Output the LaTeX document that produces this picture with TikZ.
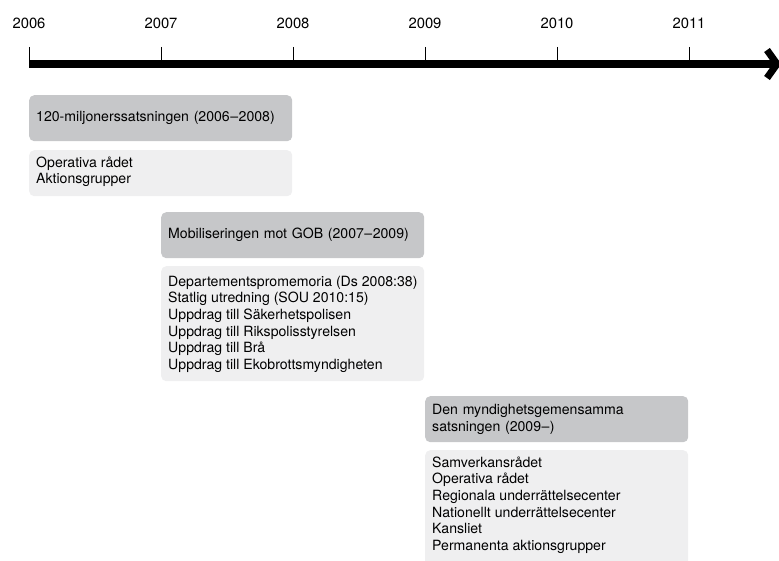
\documentclass[tikz,border=0pt]{standalone}
\usepackage{fontspec}
\setmainfont{TeX Gyre Heros}
\definecolor{hdrgray}{HTML}{C6C7C9}
\definecolor{bodygray}{HTML}{EFEFF0}
\newcommand{\yrdash}{\kern0.5pt--\kern0.5pt}
\begin{document}
\begin{tikzpicture}[x=1pt,y=-1pt,
  hdr/.style={fill=hdrgray, rounded corners=5pt, anchor=north west, minimum width=263pt, minimum height=46pt, text width=249pt, inner xsep=7pt, inner ysep=0pt, align=left, font=\fontsize{14.1}{17.5}\selectfont},
  bodybox/.style={fill=bodygray, rounded corners=5pt, anchor=north west, minimum width=263pt, inner sep=0pt},
  bodytxt/.style={anchor=north west, inner sep=0pt, align=left, font=\fontsize{14.1}{16.6}\selectfont},
  year/.style={anchor=base, inner sep=0pt, font=\fontsize{14.8}{16}\selectfont},
  tick/.style={line width=0.9pt}]
\useasboundingbox (0,0) rectangle (779,561);
% axis
\coordinate (a0) at (29,64);
\coordinate (aend) at (776,64);
\draw[line width=8pt] (a0) -- (aend);
\coordinate (c1) at (767,50);
\coordinate (c2) at (777,64);
\coordinate (c3) at (767,78);
\draw[line width=7pt, miter limit=10] (c1) -- (c2) -- (c3);
% ticks and years
\foreach \x/\y [count=\i] in {29/2006,161/2007,293/2008,425/2009,557/2010,689/2011}{
  \coordinate (t\i a) at (\x,47);
  \coordinate (t\i b) at (\x,61);
  \draw[tick] (t\i a) -- (t\i b);
  \node[year] (y\i) at (\x,28.5) {\y};
}
% box 1
\node[hdr] (h1) at (29,95) {120-miljonerssatsningen (2006\yrdash 2008)};
\node[bodybox, minimum height=46pt] (b1) at (29,150) {};
\node[bodytxt] (bt1) at (36,155) {\rule{0pt}{12pt}Operativa rådet\\Aktionsgrupper};
% box 2
\node[hdr] (h2) at (161,212) {Mobiliseringen mot GOB (2007\yrdash 2009)};
\node[bodybox, minimum height=115pt] (b2) at (161,266) {};
\node[bodytxt] (bt2) at (168,274) {\rule{0pt}{12pt}Departementspromemoria (Ds 2008:38)\\Statlig utredning (SOU 2010:15)\\Uppdrag till Säkerhetspolisen\\Uppdrag till Rikspolisstyrelsen\\Uppdrag till Brå\\Uppdrag till Ekobrottsmyndigheten};
% box 3
\node[hdr] (h3) at (425,396) {Den myndighetsgemensamma\\satsningen (2009\yrdash)};
\node[bodybox, minimum height=125pt] (b3) at (425,450) {};
\node[bodytxt] (bt3) at (432,455) {\rule{0pt}{12pt}Samverkansrådet\\Operativa rådet\\Regionala underrättelsecenter\\Nationellt underrättelsecenter\\Kansliet\\Permanenta aktionsgrupper};
\end{tikzpicture}
\end{document}
